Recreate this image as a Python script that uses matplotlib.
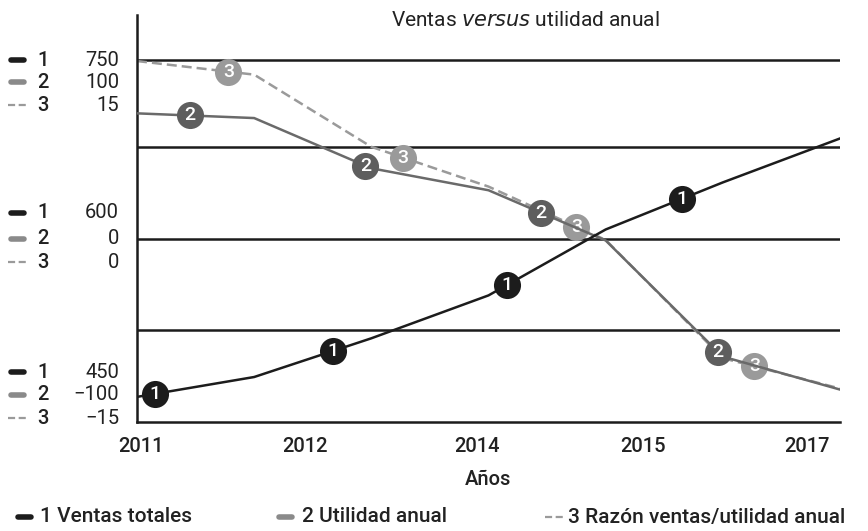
import numpy as np
import matplotlib
matplotlib.use("Agg")
import matplotlib.pyplot as plt
from matplotlib.lines import Line2D

plt.rcParams['font.family'] = ['Roboto', 'DejaVu Sans']

# data (7 equally spaced points along the time axis)
x_idx = np.arange(7)
ventas = [449, 468, 505, 546, 609, 654, 696]          # ventas totales
utilidad = [80, 77, 45, 31, -1, -75, -96]            # utilidad anual
razon = [17.0, 15.7, 8.8, 5.0, -0.1, -11.4, -14.3]    # razon ventas/utilidad

year_labels = ['2011', '2012', '2014', '2015', '2017']
year_pos = [0.03, 1.43, 2.90, 4.32, 5.72]

# label positions for the numbered circles
mark_x = {
    1: [0.154, 1.67, 3.16, 4.65],
    2: [0.45, 1.95, 3.45, 4.96],
    3: [0.78, 2.27, 3.75, 5.27],
}

# scale side labels (series 1 / 2 / 3)
scale_ventas = [750, 600, 450]
scale_utilidad = ['100', '0', '\u2212100']
scale_razon = ['15', '0', '\u221215']

grid_y = [513, 600, 688, 771]


# map utilidad and razon onto the ventas axis (as the side labels do)
def from_utilidad(u):
    return 600 + 1.5 * np.asarray(u, dtype=float)


def from_razon(r):
    return 600 + 10.0 * np.asarray(r, dtype=float)


W, H = 868, 531
fig = plt.figure(figsize=(W / 100, H / 100), dpi=100)
ax = fig.add_axes([137 / W, 1 - 422 / H, (840 - 137) / W, (422 - 15) / H])

BLACK = '#1c1c1c'
DARK = '#5e5e5e'
LIGHT = '#9a9a9a'
TXT = '#222222'

for gy in grid_y:
    ax.axhline(gy, color=BLACK, lw=1.8, zorder=1)

series = [
    (3, from_razon(razon), LIGHT, (0, (4, 2)), LIGHT, 2),
    (2, from_utilidad(utilidad), '#6a6a6a', '-', DARK, 3),
    (1, np.asarray(ventas, dtype=float), BLACK, '-', BLACK, 4),
]
for num, yv, lc, ls, mc, z in series:
    ax.plot(x_idx, yv, color=lc, lw=1.8, ls=ls, zorder=z)
    mx = np.asarray(mark_x[num])
    my = np.interp(mx, x_idx, yv)
    ax.plot(mx, my, 'o', ms=19.5, color=mc, mec='none', zorder=z + 0.5)
    for a, b in zip(mx, my):
        ax.text(a, b, str(num), color='white', fontsize=14, fontweight=500,
                ha='center', va='center', zorder=z + 0.6)

ax.set_xlim(0, 6)
ax.set_ylim(425, 814)
ax.set_xticks(year_pos)
ax.set_xticklabels(year_labels, fontsize=14.5, color=TXT, fontweight=500)
ax.tick_params(axis='x', length=0, pad=11)
ax.set_yticks([])
ax.set_xlabel('Años', fontsize=14.5, color=TXT, fontweight=500, labelpad=10)
for s in ['top', 'right']:
    ax.spines[s].set_visible(False)
for s in ['left', 'bottom']:
    ax.spines[s].set_linewidth(1.8)
    ax.spines[s].set_color(BLACK)

# title
fig.text(525 / W, 1 - 20 / H, 'Ventas $\\mathit{versus}$ utilidad anual',
         ha='center', va='center', fontsize=15, color=TXT)


def px(x, y):
    return x / W, 1 - y / H


def symbol(x0, x1, y, num):
    if num == 1:
        kw = dict(color=BLACK, lw=4, solid_capstyle='round')
    elif num == 2:
        kw = dict(color='#8a8a8a', lw=4, solid_capstyle='round')
    else:
        kw = dict(color=LIGHT, lw=1.6, ls=(0, (3.2, 1.6)))
    (a, b), (c, d) = px(x0, y), px(x1, y)
    fig.add_artist(Line2D([a, c], [b, d], transform=fig.transFigure, **kw))


# side scale labels
group_rows = [(60, 82, 105), (213, 239, 262), (372, 395, 418)]
for g, rows in enumerate(group_rows):
    vals = [str(scale_ventas[g]), scale_utilidad[g], scale_razon[g]]
    for k, yy in enumerate(rows):
        if k == 2:
            symbol(8, 26, yy, 3)
        else:
            symbol(11, 24, yy, k + 1)
        fig.text(*px(37, yy), str(k + 1), ha='left', va='center',
                 fontsize=14.5, color=TXT, fontweight=500)
        fig.text(*px(119, yy), vals[k], ha='right', va='center',
                 fontsize=14.5, color=TXT)

# bottom legend
legend_items = ['1 Ventas totales', '2 Utilidad anual', '3 Razón ventas/utilidad anual']
legend_x = [(18, 31, 40), (279, 292, 302), (545, 564, 568)]
for k, (txt, (s0, s1, tx)) in enumerate(zip(legend_items, legend_x)):
    symbol(s0, s1, 517, k + 1)
    fig.text(*px(tx, 517), txt, ha='left', va='center', fontsize=15,
             color=TXT, fontweight=500)

fig.savefig('out.png', dpi=100)
